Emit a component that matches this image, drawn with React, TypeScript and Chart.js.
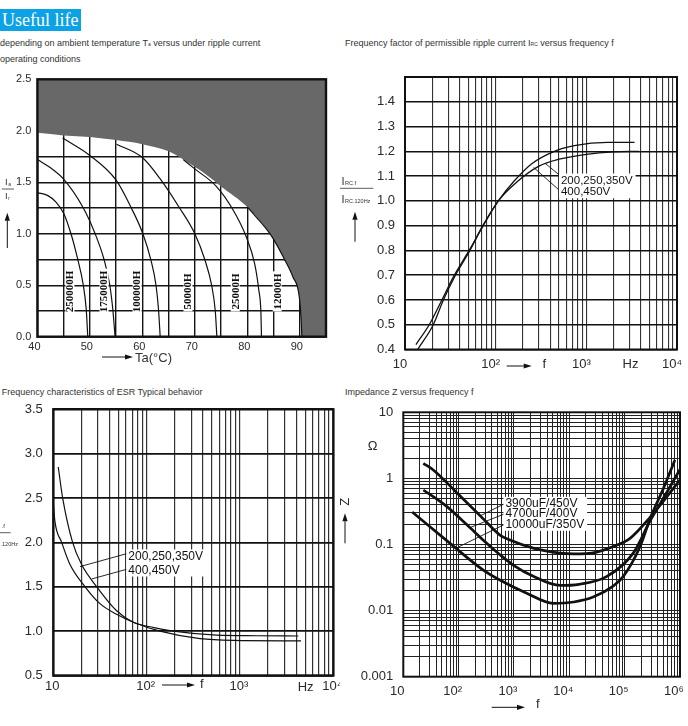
import React, { useEffect, useRef } from 'react';
import { Chart, registerables } from 'chart.js';

Chart.register(...registerables);

const SANS = "'Liberation Sans', Arial, Helvetica, sans-serif";
const SERIF = "'Liberation Serif', 'Times New Roman', Times, serif";

// ---------------- Panel A : useful life ----------------
const A_X_GRID = [40, 45, 50, 55, 60, 65, 70, 75, 80, 85, 90, 95];
const A_X_LABELS = [40, 50, 60, 70, 80, 90];
const A_Y_GRID = [0, 0.25, 0.5, 0.75, 1, 1.25, 1.5, 1.75, 2, 2.25, 2.5];
const A_Y_LABELS = [0, 0.5, 1, 1.5, 2, 2.5];

const LIMIT_TA = [40, 45, 50, 55, 60, 65, 67.8, 72, 75, 80, 84.6, 87, 88.7, 89.9, 90.3, 90.4, 95];
const LIMIT_RATIO = [1.98, 1.955, 1.94, 1.91, 1.87, 1.8, 1.72, 1.58, 1.46, 1.26, 0.98, 0.76, 0.58, 0.39, 0.13, 0, 0];

const LIFE_NAMES = ['250000H', '175000H', '100000H', '50000H', '25000H', '12000H'];
const LIFE_LABEL_TA = [46.2, 52.7, 59.0, 68.7, 77.7, 85.7];
const LIFE_LABEL_RATIO = 0.44;

const H250000_TA = [40, 42, 43.5, 45, 46.4, 47.6, 48.75, 49.3, 49.6];
const H250000_RATIO = [1.4, 1.37, 1.31, 1.2, 1.0, 0.77, 0.5, 0.27, 0];
const H175000_TA = [40, 42.5, 45, 48.75, 51, 52.7, 53.8, 54.4, 54.8];
const H175000_RATIO = [1.72, 1.64, 1.53, 1.25, 1.0, 0.75, 0.5, 0.25, 0];
const H100000_TA = [44.8, 50, 55, 57.9, 60.1, 61.6, 62.6, 63.1, 63.4];
const H100000_RATIO = [1.93, 1.76, 1.52, 1.25, 1.0, 0.75, 0.5, 0.25, 0];
const H50000_TA = [55.1, 60, 63.3, 67.1, 70, 71.9, 73.2, 73.9, 74.2];
const H50000_RATIO = [1.87, 1.74, 1.54, 1.25, 1.0, 0.75, 0.5, 0.25, 0];
const H25000_TA = [67.8, 70, 74.1, 77.3, 79.8, 81.4, 82.2, 82.6, 82.7];
const H25000_RATIO = [1.72, 1.63, 1.46, 1.23, 0.97, 0.71, 0.45, 0.23, 0];

// ---------------- Panel B : ripple current frequency factor ----------------
const B_X_LABEL_VALUES = [10, 100, 1000, 10000];
const B_X_LABELS = ['10', '10²', '10³', '10⁴'];
const B_Y_GRID = [0.4, 0.5, 0.6, 0.7, 0.8, 0.9, 1.0, 1.1, 1.2, 1.3, 1.4, 1.5];
const B_Y_LABELS = [0.4, 0.5, 0.6, 0.7, 0.8, 0.9, 1.0, 1.1, 1.2, 1.3, 1.4];
const B_F_HIGH = [13.8, 20.5, 26.5, 36, 52, 72, 107, 160, 250, 444, 738, 1718, 3400];
const B_K_HIGH = [0.4, 0.5, 0.6, 0.7, 0.8, 0.9, 1.0, 1.08, 1.15, 1.2, 1.223, 1.236, 1.236];
const B_F_LOW = [13.2, 18.5, 25.5, 35, 51, 73, 107, 170, 300, 500, 1000, 2000, 3800];
const B_K_LOW = [0.42, 0.5, 0.6, 0.7, 0.8, 0.9, 1.0, 1.075, 1.14, 1.168, 1.188, 1.198, 1.2];
const B_NOTES = ['200,250,350V', '400,450V'];
const B_NOTE_F = 525;
const B_NOTE_K = [1.084, 1.037];
const B_LEADERS = [[525, 1.099, 350, 1.152], [525, 1.037, 262, 1.135]];

// ---------------- Panel C : ESR frequency characteristics ----------------
const C_X_LABEL_VALUES = [10, 100, 1000, 10000];
const C_X_LABELS = ['10', '10²', '10³', '10⁴'];
const C_Y_GRID = [0.5, 1.0, 1.5, 2.0, 2.5, 3.0, 3.5];
const C_Y_LABELS = [0.5, 1.0, 1.5, 2.0, 2.5, 3.0, 3.5];
const C_F_A = [11.3, 12.6, 16.1, 20.1, 29.2, 47.7, 72, 120, 193, 563, 1500, 4220];
const C_R_A = [2.85, 2.5, 2.0, 1.75, 1.5, 1.23, 1.1, 1.04, 1.0, 0.955, 0.948, 0.945];
const C_F_B = [10, 10.4, 12.3, 15.1, 21.9, 31.6, 47.7, 72, 139, 373, 848, 4510];
const C_R_B = [2.45, 2.24, 2.0, 1.75, 1.5, 1.31, 1.19, 1.1, 1.0, 0.915, 0.895, 0.89];
const C_NOTES = ['200,250,350V', '400,450V'];
const C_NOTE_F = 63.6;
const C_NOTE_R = [1.847, 1.689];
const C_LEADERS = [[63.6, 1.878, 19.3, 1.727], [61.1, 1.697, 25.8, 1.588]];

// ---------------- Panel D : impedance ----------------
const D_X_LABEL_VALUES = [10, 100, 1000, 10000, 100000, 1000000];
const D_X_LABELS = ['10', '10²', '10³', '10⁴', '10⁵', '10⁶'];
const D_Y_LABEL_VALUES = [0.001, 0.01, 0.1, 1, 10];
const D_Y_LABELS = ['0.001', '0.01', '0.1', '1', '10'];
const D_F_450 = [23, 34.8, 100, 300, 558, 847, 2234, 6770, 12000, 30000, 62400, 125000, 290000, 600000, 1000000];
const D_Z_450 = [1.69, 1.34, 0.57, 0.23, 0.139, 0.117, 0.088, 0.074, 0.072, 0.076, 0.093, 0.124, 0.26, 0.55, 0.95];
const D_F_400 = [23, 60, 140, 300, 558, 1000, 2234, 6800, 15000, 47000, 143000, 290000, 600000, 1000000];
const D_Z_400 = [0.668, 0.38, 0.2, 0.11, 0.07, 0.048, 0.033, 0.024, 0.025, 0.0326, 0.074, 0.23, 0.65, 1.37];
const D_F_350 = [14.5, 70, 279, 600, 1700, 5130, 12000, 27000, 60000, 94000, 190000, 290000, 500000, 810000];
const D_Z_350 = [0.31, 0.104, 0.041, 0.028, 0.0183, 0.0129, 0.0135, 0.016, 0.023, 0.0326, 0.093, 0.25, 0.7, 1.9];
const D_NOTES = ['3900uF/450V', '4700uF/400V', '10000uF/350V'];
const D_NOTE_F = 700;
const D_NOTE_Z = [0.42, 0.296, 0.202];
const D_LEADERS = [[700, 0.42, 243, 0.27], [700, 0.294, 160, 0.18], [700, 0.204, 89.6, 0.088]];

// ---------------- layout (page coordinates) ----------------
type Box = { left: number; top: number; width: number; height: number };
const BOX_A: Box = { left: 0, top: 70, width: 340, height: 300 };
const BOX_B: Box = { left: 340, top: 60, width: 348, height: 320 };
const BOX_C: Box = { left: 0, top: 400, width: 340, height: 326 };
const BOX_D: Box = { left: 340, top: 400, width: 348, height: 326 };
const AREA_A = [37.4, 79.3, 326, 336.7];
const AREA_B = [405, 77, 677, 349.5];
const AREA_C = [53.3, 409.3, 333.3, 675.5];
const AREA_D = [403.3, 412.3, 680, 676.7];

function logGrid(e0: number, e1: number) {
  const out: number[] = [];
  for (let e = e0; e < e1; e++) for (let k = 1; k <= 9; k++) out.push(Number((k * Math.pow(10, e)).toPrecision(4)));
  out.push(Number(Math.pow(10, e1).toPrecision(4)));
  return out;
}

const pts = (xs: number[], ys: number[]) => xs.map((x, i) => ({ x, y: ys[i] }));
const near = (a: number, b: number) => Math.abs(a - b) <= Math.abs(b) * 1e-6 + 1e-9;
const pick = (values: number[], texts: string[]) => (v: number) => {
  const i = values.findIndex((t) => near(v, t));
  return i >= 0 ? texts[i] : '';
};
const fixed1 = (values: number[]) => (v: number) => (values.some((t) => near(v, t)) ? v.toFixed(1) : '');
const plain = (values: number[]) => (v: number) => (values.some((t) => near(v, t)) ? String(v) : '');

function axis(kind: 'x' | 'y', type: string, min: number, max: number, grid: number[], label: (v: number) => string, size: number, o: any) {
  return {
    type,
    min,
    max,
    position: kind === 'x' ? 'bottom' : 'left',
    z: o.z || 0,
    afterBuildTicks: (s: any) => {
      s.ticks = grid.map((v) => ({ value: v }));
    },
    afterFit: (s: any) => {
      if (kind === 'x') s.height = size;
      else s.width = size;
      s.paddingLeft = 0;
      s.paddingRight = 0;
      s.paddingTop = 0;
      s.paddingBottom = 0;
    },
    grid: { color: o.color, lineWidth: o.width, drawTicks: false },
    border: { display: false },
    ticks: {
      autoSkip: false,
      maxRotation: 0,
      minRotation: 0,
      padding: o.pad,
      labelOffset: o.offset || 0,
      color: '#2a2a2a',
      font: { family: SANS, size: o.font },
      callback: (v: any) => label(Number(v)),
    },
  };
}

function options(box: Box, area: number[], x: any, y: any) {
  return {
    responsive: false,
    maintainAspectRatio: false,
    animation: false,
    events: [],
    layout: { padding: { left: 0, top: area[1] - box.top, right: box.left + box.width - area[2], bottom: 0 } },
    plugins: { legend: { display: false }, tooltip: { enabled: false } },
    scales: { x, y },
  };
}

const curve = (xs: number[], ys: number[], width: number, extra: any = {}) => ({
  data: pts(xs, ys),
  borderColor: '#111',
  borderWidth: width,
  pointRadius: 0,
  fill: false,
  cubicInterpolationMode: 'monotone',
  order: 0,
  ...extra,
});

function seg(ctx: any, x1: number, y1: number, x2: number, y2: number) {
  ctx.beginPath();
  ctx.moveTo(x1, y1);
  ctx.lineTo(x2, y2);
  ctx.stroke();
}

function arrow(ctx: any, x1: number, y1: number, x2: number, y2: number) {
  const a = Math.atan2(y2 - y1, x2 - x1);
  const head = 8;
  const half = 2.6;
  const bx = x2 - head * Math.cos(a);
  const by = y2 - head * Math.sin(a);
  ctx.lineWidth = 1;
  seg(ctx, x1, y1, bx, by);
  ctx.beginPath();
  ctx.moveTo(x2, y2);
  ctx.lineTo(bx + half * Math.sin(a), by - half * Math.cos(a));
  ctx.lineTo(bx - half * Math.sin(a), by + half * Math.cos(a));
  ctx.closePath();
  ctx.fill();
}

function frame(chart: any, width: number) {
  const { ctx, chartArea: ca } = chart;
  ctx.save();
  ctx.strokeStyle = '#111';
  ctx.lineWidth = width;
  ctx.strokeRect(ca.left, ca.top, ca.right - ca.left, ca.bottom - ca.top);
  ctx.restore();
}

function notes(chart: any, texts: string[], fx: number, vys: number[], font: string, leaders: number[][]) {
  const { ctx, scales } = chart;
  const x = scales.x;
  const y = scales.y;
  ctx.save();
  ctx.strokeStyle = '#111';
  ctx.lineWidth = 0.9;
  leaders.forEach((l) => seg(ctx, x.getPixelForValue(l[0]), y.getPixelForValue(l[1]), x.getPixelForValue(l[2]), y.getPixelForValue(l[3])));
  ctx.font = font;
  const left = x.getPixelForValue(fx);
  const ys = vys.map((v) => y.getPixelForValue(v));
  const w = Math.max(...texts.map((t) => ctx.measureText(t).width));
  const top = Math.min(...ys) - 6.5;
  ctx.fillStyle = '#fff';
  ctx.fillRect(left - 2, top, w + 5, Math.max(...ys) + 6.5 - top);
  ctx.fillStyle = '#111';
  ctx.textAlign = 'left';
  ctx.textBaseline = 'middle';
  texts.forEach((t, i) => ctx.fillText(t, left, ys[i] + 0.5));
  ctx.restore();
}

function text(ctx: any, s: string, x: number, y: number, size: number, align = 'left', baseline = 'alphabetic') {
  ctx.font = `${size}px ${SANS}`;
  ctx.textAlign = align;
  ctx.textBaseline = baseline;
  ctx.fillText(s, x, y);
}

function configA(): any {
  return {
    type: 'line',
    data: {
      datasets: [
        {
          data: pts(LIMIT_TA, LIMIT_RATIO),
          borderColor: 'rgba(0,0,0,0)',
          borderWidth: 1,
          backgroundColor: '#686868',
          fill: 'end',
          pointRadius: 0,
          cubicInterpolationMode: 'monotone',
          order: 5,
        },
        curve(H250000_TA, H250000_RATIO, 1.2),
        curve(H175000_TA, H175000_RATIO, 1.2),
        curve(H100000_TA, H100000_RATIO, 1.2),
        curve(H50000_TA, H50000_RATIO, 1.2),
        curve(H25000_TA, H25000_RATIO, 1.2),
        curve(LIMIT_TA.slice(9, 16), LIMIT_RATIO.slice(9, 16), 1.2),
      ],
    },
    options: options(
      BOX_A,
      AREA_A,
      axis('x', 'linear', 40, 95, A_X_GRID, plain(A_X_LABELS), BOX_A.top + BOX_A.height - AREA_A[3], { color: '#151515', width: 1.4, pad: 4, font: 11, offset: -3, z: 1 }),
      axis('y', 'linear', 0, 2.5, A_Y_GRID, fixed1(A_Y_LABELS), AREA_A[0] - BOX_A.left, { color: '#151515', width: 1.4, pad: 6, font: 11, z: 1 }),
    ),
    plugins: [
      {
        id: 'decorA',
        afterDraw(chart: any) {
          frame(chart, 2.4);
          const { ctx, scales } = chart;
          ctx.save();
          ctx.font = `bold 11px ${SERIF}`;
          ctx.textAlign = 'center';
          ctx.textBaseline = 'middle';
          LIFE_NAMES.forEach((n, i) => {
            const px = scales.x.getPixelForValue(LIFE_LABEL_TA[i]);
            const py = scales.y.getPixelForValue(LIFE_LABEL_RATIO);
            const w = ctx.measureText(n).width;
            ctx.save();
            ctx.translate(px, py);
            ctx.rotate(-Math.PI / 2);
            ctx.fillStyle = '#fff';
            ctx.fillRect(-w / 2 - 2, -4.5, w + 4, 9);
            ctx.fillStyle = '#111';
            ctx.fillText(n, 0, 0.5);
            ctx.restore();
          });
          ctx.translate(-BOX_A.left, -BOX_A.top);
          ctx.fillStyle = '#333';
          ctx.strokeStyle = '#333';
          text(ctx, 'I', 5, 185, 9.5);
          text(ctx, 'a', 8.3, 185.5, 5);
          ctx.lineWidth = 0.8;
          seg(ctx, 1.7, 189, 14, 189);
          text(ctx, 'I', 5, 199, 9.5);
          text(ctx, 'r', 8.3, 199.5, 5);
          ctx.fillStyle = '#111';
          ctx.strokeStyle = '#111';
          arrow(ctx, 7.3, 248, 7.3, 212.7);
          arrow(ctx, 102, 357, 133, 357);
          ctx.fillStyle = '#333';
          text(ctx, 'Ta(°C)', 135, 358, 13, 'left', 'middle');
          ctx.restore();
        },
      },
    ],
  };
}

function configB(): any {
  return {
    type: 'line',
    data: {
      datasets: [curve(B_F_HIGH, B_K_HIGH, 1.3), curve(B_F_LOW, B_K_LOW, 1.3)],
    },
    options: options(
      BOX_B,
      AREA_B,
      axis('x', 'logarithmic', 10, 10000, logGrid(1, 4), pick(B_X_LABEL_VALUES, B_X_LABELS), BOX_B.top + BOX_B.height - AREA_B[3], { color: '#333', width: 1.1, pad: 7, font: 13, offset: -5 }),
      axis('y', 'linear', 0.4, 1.5, B_Y_GRID, fixed1(B_Y_LABELS), AREA_B[0] - BOX_B.left, { color: '#111', width: 1.5, pad: 10, font: 13 }),
    ),
    plugins: [
      {
        id: 'decorB',
        afterDraw(chart: any) {
          frame(chart, 2);
          notes(chart, B_NOTES, B_NOTE_F, B_NOTE_K, `11.5px ${SANS}`, B_LEADERS);
          const { ctx } = chart;
          ctx.save();
          ctx.translate(-BOX_B.left, -BOX_B.top);
          ctx.fillStyle = '#333';
          ctx.strokeStyle = '#333';
          text(ctx, 'I', 341.5, 185, 11);
          text(ctx, 'RC.f', 345, 185, 5.5);
          ctx.lineWidth = 0.8;
          seg(ctx, 340, 188.3, 373.3, 188.3);
          text(ctx, 'I', 341.5, 202.5, 11);
          text(ctx, 'RC.120Hz', 345, 202.5, 5.5);
          ctx.fillStyle = '#111';
          ctx.strokeStyle = '#111';
          arrow(ctx, 355, 241.7, 355, 211.7);
          arrow(ctx, 506.7, 366, 531.7, 366);
          ctx.fillStyle = '#2a2a2a';
          text(ctx, 'f', 542.5, 368, 13);
          text(ctx, 'Hz', 622.5, 368, 13);
          ctx.restore();
        },
      },
    ],
  };
}

function configC(): any {
  return {
    type: 'line',
    data: {
      datasets: [curve(C_F_A, C_R_A, 1.2), curve(C_F_B, C_R_B, 1.2)],
    },
    options: options(
      BOX_C,
      AREA_C,
      axis('x', 'logarithmic', 10, 10000, logGrid(1, 4), pick(C_X_LABEL_VALUES, C_X_LABELS), BOX_C.top + BOX_C.height - AREA_C[3], { color: '#333', width: 1.2, pad: 3, font: 13, offset: -1 }),
      axis('y', 'linear', 0.5, 3.5, C_Y_GRID, fixed1(C_Y_LABELS), AREA_C[0] - BOX_C.left, { color: '#111', width: 1.8, pad: 10.5, font: 13 }),
    ),
    plugins: [
      {
        id: 'decorC',
        afterDraw(chart: any) {
          frame(chart, 2.4);
          notes(chart, C_NOTES, C_NOTE_F, C_NOTE_R, `12px ${SANS}`, C_LEADERS);
          const { ctx } = chart;
          ctx.save();
          ctx.translate(-BOX_C.left, -BOX_C.top);
          ctx.fillStyle = '#333';
          ctx.strokeStyle = '#333';
          text(ctx, '.f', 1.7, 528, 6);
          ctx.lineWidth = 0.8;
          seg(ctx, 0, 532.7, 10.7, 532.7);
          text(ctx, '.120Hz', 0.5, 545.5, 5.5);
          ctx.fillStyle = '#111';
          ctx.strokeStyle = '#111';
          arrow(ctx, 162, 685, 195, 685);
          ctx.fillStyle = '#2a2a2a';
          text(ctx, 'f', 200, 688, 13);
          text(ctx, 'Hz', 297.7, 690.5, 13);
          ctx.restore();
        },
      },
    ],
  };
}

function configD(): any {
  return {
    type: 'line',
    data: {
      datasets: [curve(D_F_450, D_Z_450, 2.7), curve(D_F_400, D_Z_400, 2.7), curve(D_F_350, D_Z_350, 2.7)],
    },
    options: options(
      BOX_D,
      AREA_D,
      axis('x', 'logarithmic', 10, 1000000, logGrid(1, 6), pick(D_X_LABEL_VALUES, D_X_LABELS), BOX_D.top + BOX_D.height - AREA_D[3], { color: '#222', width: 1, pad: 6.5, font: 13, offset: -6 }),
      axis('y', 'logarithmic', 0.001, 10, logGrid(-3, 1), pick(D_Y_LABEL_VALUES, D_Y_LABELS), AREA_D[0] - BOX_D.left, { color: '#222', width: 1, pad: 10, font: 13 }),
    ),
    plugins: [
      {
        id: 'decorD',
        afterDraw(chart: any) {
          frame(chart, 2);
          notes(chart, D_NOTES, D_NOTE_F, D_NOTE_Z, `12px ${SANS}`, D_LEADERS);
          const { ctx } = chart;
          ctx.save();
          ctx.translate(-BOX_D.left, -BOX_D.top);
          ctx.fillStyle = '#2a2a2a';
          text(ctx, 'Ω', 372.5, 446.7, 13, 'center', 'middle');
          ctx.save();
          ctx.translate(345.8, 501.7);
          ctx.rotate(-Math.PI / 2);
          text(ctx, 'Z', 0, 0, 13, 'center', 'middle');
          ctx.restore();
          ctx.fillStyle = '#111';
          ctx.strokeStyle = '#111';
          arrow(ctx, 345, 543.3, 345, 513.3);
          arrow(ctx, 491.7, 707.3, 525, 707.3);
          ctx.fillStyle = '#2a2a2a';
          text(ctx, 'f', 536, 708.3, 13);
          ctx.restore();
        },
      },
    ],
  };
}

const small = { fontSize: 5 } as const;

export default function App() {
  const refA = useRef<HTMLCanvasElement>(null);
  const refB = useRef<HTMLCanvasElement>(null);
  const refC = useRef<HTMLCanvasElement>(null);
  const refD = useRef<HTMLCanvasElement>(null);

  useEffect(() => {
    const charts = [
      new Chart(refA.current as HTMLCanvasElement, configA()),
      new Chart(refB.current as HTMLCanvasElement, configB()),
      new Chart(refC.current as HTMLCanvasElement, configC()),
      new Chart(refD.current as HTMLCanvasElement, configD()),
    ];
    return () => charts.forEach((c) => c.destroy());
  }, []);

  const cap = (left: number, top: number): React.CSSProperties => ({
    position: 'absolute',
    left,
    top,
    font: `9px ${SANS}`,
    lineHeight: '11px',
    color: '#333',
    whiteSpace: 'nowrap',
  });
  const cv = (b: Box): React.CSSProperties => ({ position: 'absolute', left: b.left, top: b.top, width: b.width, height: b.height });

  return (
    <div style={{ position: 'absolute', left: 0, top: 0, width: 688, height: 726, background: '#fff', overflow: 'hidden' }}>
      <div
        style={{
          position: 'absolute',
          left: 0,
          top: 8.5,
          width: 81,
          height: 22.5,
          background: '#0ca2e6',
          color: '#fff',
          font: `18px ${SERIF}`,
          lineHeight: '23px',
          paddingLeft: 2,
          boxSizing: 'border-box',
          whiteSpace: 'nowrap',
        }}
      >
        Useful life
      </div>
      <div style={cap(0, 37.8)}>
        depending on ambient temperature T<span style={small}>a</span> versus under ripple current
      </div>
      <div style={cap(0, 53.8)}>operating conditions</div>
      <div style={cap(345, 37.8)}>
        Frequency factor of permissible ripple current I<span style={small}>RC</span> versus frequency f
      </div>
      <div style={cap(1.7, 387.2)}>Frequency characteristics of ESR Typical behavior</div>
      <div style={cap(345, 387.2)}>Impedance Z versus frequency f</div>
      <canvas ref={refA} width={BOX_A.width} height={BOX_A.height} style={cv(BOX_A)} />
      <canvas ref={refB} width={BOX_B.width} height={BOX_B.height} style={cv(BOX_B)} />
      <canvas ref={refC} width={BOX_C.width} height={BOX_C.height} style={cv(BOX_C)} />
      <canvas ref={refD} width={BOX_D.width} height={BOX_D.height} style={cv(BOX_D)} />
    </div>
  );
}
